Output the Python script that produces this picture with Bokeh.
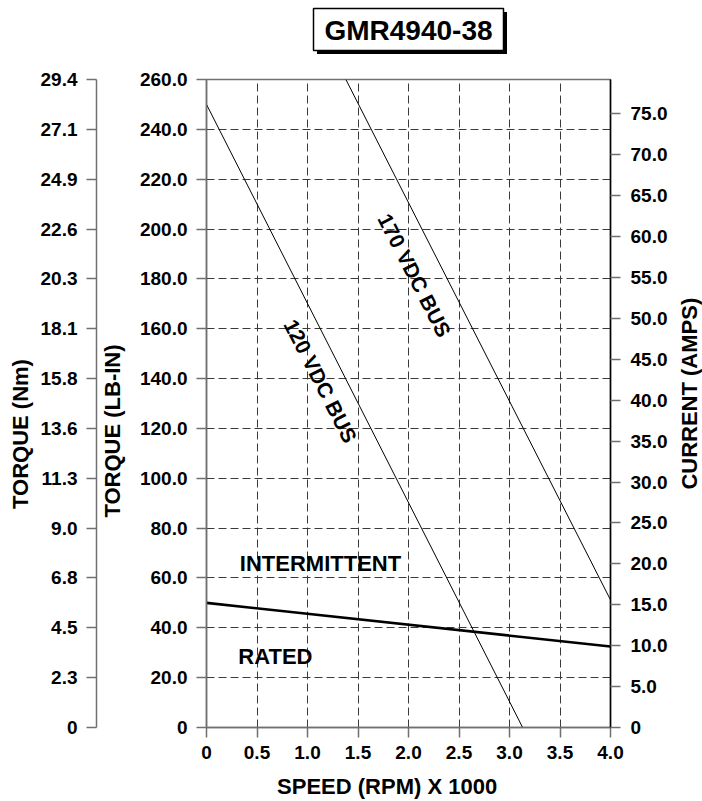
import math
from bokeh.plotting import figure
from bokeh.layouts import column, row
from bokeh.models import (Range1d, LinearAxis, FixedTicker, Label,
                          NumeralTickFormatter)
from bokeh.core.properties import value
from bokeh.embed import file_html
from bokeh.resources import INLINE

# ---------------- data ----------------
title_text = "GMR4940-38"
current_title = "CURRENT (AMPS)"
speed_ticks = [0, 0.5, 1.0, 1.5, 2.0, 2.5, 3.0, 3.5, 4.0]
torque_ticks = [0, 20, 40, 60, 80, 100, 120, 140, 160, 180, 200, 220, 240, 260]
torque_nm_labels = ["0", "2.3", "4.5", "6.8", "9.0", "11.3", "13.6", "15.8",
                    "18.1", "20.3", "22.6", "24.9", "27.1", "29.4"]
current_ticks = [0, 5, 10, 15, 20, 25, 30, 35, 40, 45, 50, 55, 60, 65, 70, 75]
speed_max = 4.0
torque_max = 260.0
current_max = 79.2

bus120_speed = [0.0, 3.13]
bus120_torque = [250.0, 0.0]
bus170_speed = [1.38, 4.0]
bus170_torque = [260.0, 51.2]
rated_speed = [0.0, 4.0]
rated_torque = [50.0, 32.5]

FONT = "Liberation Sans"
TICK_FS = "19px"
LABEL_FS = "22px"
GRID_COLOR = "#3a3a3a"
AXIS_GRAY = "#707070"
NB = "\u00a0"  # non-breaking space used to nudge axis-label placement

TOP_H = 67          # height of the title strip
FRAME_W, FRAME_H = 404, 648
BORDER_L, BORDER_R, BORDER_T, BORDER_B = 206, 62, 12, 74
SIDE_W = 30         # strip that carries the right-hand axis title

# ---------------- title strip (box with drop shadow) ----------------
title_fig = figure(frame_width=702, frame_height=TOP_H, min_border=0,
                   x_range=Range1d(0, 702), y_range=Range1d(TOP_H, 0),
                   x_axis_location=None, y_axis_location=None,
                   toolbar_location=None, output_backend="svg",
                   outline_line_color=None)
title_fig.grid.visible = False
title_fig.quad(left=[316.5], right=[506.5], top=[11.5], bottom=[53.5],
               fill_color="black", line_color=None)
title_fig.quad(left=[313], right=[503], top=[8], bottom=[50],
               fill_color="white", line_color="black", line_width=1.5)
title_fig.text(x=[408], y=[29.5], text=[title_text], text_align="center",
               text_baseline="middle", text_font=value(FONT),
               text_font_style="bold", text_font_size="28px", text_color="black")

# ---------------- main chart ----------------
p = figure(frame_width=FRAME_W, frame_height=FRAME_H, output_backend="svg",
           toolbar_location=None,
           x_range=Range1d(0, speed_max), y_range=Range1d(0, torque_max),
           min_border_left=BORDER_L, min_border_right=BORDER_R,
           min_border_top=BORDER_T, min_border_bottom=BORDER_B,
           background_fill_color="white", border_fill_color="white")
p.outline_line_color = AXIS_GRAY
p.outline_line_width = 1.5

def style_axis(ax, line_color=AXIS_GRAY):
    ax.axis_line_color = line_color
    ax.axis_line_width = 1.5
    ax.major_tick_line_color = AXIS_GRAY
    ax.major_tick_line_width = 1.5
    ax.major_tick_out = 10
    ax.major_tick_in = 0
    ax.minor_tick_line_color = None
    ax.major_label_text_font = FONT
    ax.major_label_text_font_style = "bold"
    ax.major_label_text_font_size = TICK_FS
    ax.major_label_text_color = "black"
    ax.major_label_standoff = 9
    ax.axis_label_text_font = FONT
    ax.axis_label_text_font_style = "bold"
    ax.axis_label_text_font_size = LABEL_FS
    ax.axis_label_text_color = "black"

# bottom axis
xa = p.below[0]
xa.ticker = FixedTicker(ticks=speed_ticks)
xa.formatter = NumeralTickFormatter(format="0.0")
xa.major_label_overrides = {0: "0"}
xa.axis_label = "SPEED (RPM) X 1000" + NB * 7
style_axis(xa)
xa.major_label_standoff = 8
xa.axis_label_standoff = 12

# main left axis (lb-in)
ya = p.left[0]
ya.ticker = FixedTicker(ticks=torque_ticks)
ya.formatter = NumeralTickFormatter(format="0.0")
ya.major_label_overrides = {0: "0"}
ya.axis_label = "TORQUE (LB-IN)" + NB * 9
style_axis(ya)
ya.axis_label_standoff = 12

# outer left axis (Nm)
nm_axis = LinearAxis(ticker=FixedTicker(ticks=torque_ticks),
                     major_label_overrides=dict(zip(torque_ticks, torque_nm_labels)),
                     axis_label="TORQUE (Nm)" + NB * 10)
style_axis(nm_axis)
nm_axis.axis_label_standoff = 5
p.add_layout(nm_axis, "left")

# right axis (current)
current_range = Range1d(0, current_max)
p.extra_y_ranges = {"current": current_range}
cur_axis = LinearAxis(y_range_name="current", ticker=FixedTicker(ticks=current_ticks),
                      formatter=NumeralTickFormatter(format="0.0"),
                      major_label_overrides={0: "0"})
style_axis(cur_axis, line_color="black")
cur_axis.major_label_standoff = 10
p.add_layout(cur_axis, "right")

# grid
p.xgrid.ticker = FixedTicker(ticks=speed_ticks[1:-1])
p.ygrid.ticker = FixedTicker(ticks=torque_ticks[1:-1])
for g in (p.xgrid[0], p.ygrid[0]):
    g.grid_line_color = GRID_COLOR
    g.grid_line_dash = "8 4"
    g.grid_line_width = 1

# curves
p.line(bus120_speed, bus120_torque, line_color="black", line_width=1)
p.line(bus170_speed, bus170_torque, line_color="black", line_width=1)
p.line(rated_speed, rated_torque, line_color="black", line_width=2.6)

ang = -math.radians(62.9)
for txt, x, y in (("120 VDC BUS", 1.13, 139.0), ("170 VDC BUS", 2.06, 181.4)):
    p.add_layout(Label(x=x, y=y, text=txt, angle=ang, text_align="center",
                       text_baseline="middle", text_font=FONT,
                       text_font_style="bold", text_font_size="21px",
                       text_color="black"))
for txt, x, y in (("INTERMITTENT", 0.33, 66.0), ("RATED", 0.315, 28.5)):
    p.add_layout(Label(x=x, y=y, text=txt, text_align="left",
                       text_baseline="middle", text_font=FONT,
                       text_font_style="bold", text_font_size="22px",
                       text_color="black"))

# ---------------- right-hand axis title strip ----------------
side = figure(frame_width=SIDE_W, frame_height=FRAME_H, min_border_left=0,
              min_border_right=0, min_border_top=BORDER_T,
              min_border_bottom=BORDER_B, x_range=Range1d(0, SIDE_W),
              y_range=current_range, x_axis_location=None,
              y_axis_location=None, toolbar_location=None,
              output_backend="svg", outline_line_color=None)
side.grid.visible = False
side.text(x=[16.5], y=[40.8], text=[current_title], angle=math.pi / 2,
          text_align="center", text_baseline="middle", text_font=value(FONT),
          text_font_style="bold", text_font_size=LABEL_FS, text_color="black")

layout = column(title_fig, row(p, side))
open("out.html", "w").write(file_html(layout, INLINE))
